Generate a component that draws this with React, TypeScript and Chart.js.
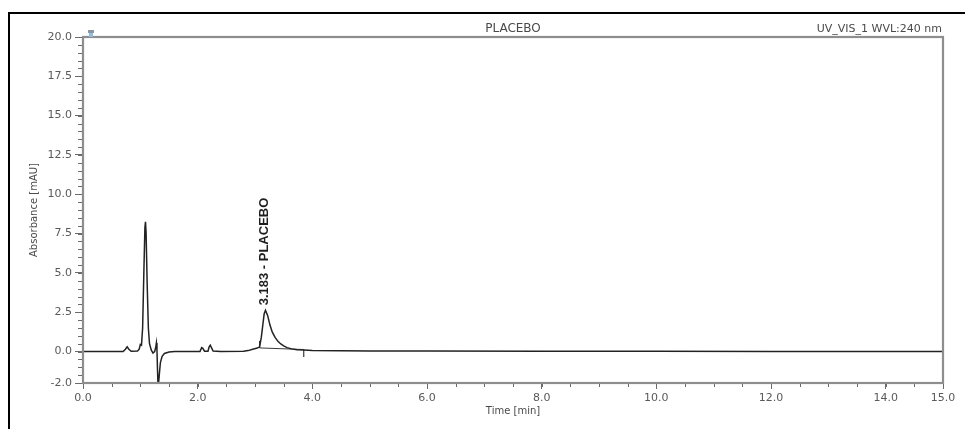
import { useEffect, useRef } from "react";
import { Chart, registerables } from "chart.js";

Chart.register(...registerables);

// Chromatogram trace: retention time (min) and detector response (mAU)
const timeMin = [
  0.0, 0.7, 0.74, 0.77, 0.8, 0.84, 0.95, 0.98, 1.0, 1.02, 1.04, 1.06, 1.08, 1.09, 1.1, 1.12, 1.14, 1.16,
  1.19, 1.22, 1.25, 1.27, 1.28, 1.29, 1.3, 1.31, 1.32, 1.33, 1.35, 1.38, 1.42, 1.5, 1.6, 2.04, 2.07, 2.09,
  2.12, 2.18, 2.2, 2.22, 2.24, 2.27, 2.4, 2.8, 2.88, 2.96, 3.04, 3.08, 3.11, 3.14, 3.16, 3.183, 3.22, 3.26,
  3.3, 3.35, 3.4, 3.45, 3.5, 3.56, 3.64, 3.73, 3.85, 4.0, 4.5, 5.0, 6.0, 8.0, 10.0, 12.0, 15.0,
];
const absorbance = [
  0.0, 0.0, 0.15, 0.3, 0.15, 0.02, 0.03, 0.15, 0.45, 0.4, 1.5, 4.8, 7.9, 8.25, 7.6, 4.2, 1.5, 0.5,
  0.1, -0.1, 0.0, 0.3, 0.55, 0.1, -1.2, -2.4, -2.4, -1.5, -0.7, -0.3, -0.12, -0.03, 0.0, 0.0, 0.25, 0.2,
  0.02, 0.02, 0.3, 0.4, 0.25, 0.03, 0.0, 0.02, 0.06, 0.15, 0.22, 0.3, 0.9, 1.8, 2.4, 2.62, 2.3, 1.7,
  1.25, 0.9, 0.65, 0.48, 0.36, 0.25, 0.17, 0.12, 0.1, 0.07, 0.05, 0.04, 0.03, 0.02, 0.02, 0.01, 0.0,
];

// Integration baseline under the named peak, with its start/end delimiters
const baselineTime = [3.08, 3.85];
const baselineAbs = [0.23, 0.13];
const startMarkTime = [3.08, 3.08];
const startMarkAbs = [0.23, 0.68];
const endMarkTime = [3.85, 3.85];
const endMarkAbs = [0.13, -0.35];

// Identified peak
const peakName = "PLACEBO";
const peakRetention = 3.183;

// Header texts
const sampleName = "PLACEBO";
const channelName = "UV_VIS_1 WVL:240 nm";

// Axis ticks
const xTickValues = [0, 2, 4, 6, 8, 10, 12, 14, 15];
const yTickValues = [-2, 0, 2.5, 5, 7.5, 10, 12.5, 15, 17.5, 20];
const minorStep = 0.5;

const toPoints = (xs: number[], ys: number[]) => xs.map((x, i) => ({ x, y: ys[i] }));

const CANVAS_W = 965;
const CANVAS_H = 429;
const PAD = { top: 37, right: 22, left: 20, bottom: 8 };
const AREA_LEFT = 83;
const AREA_BOTTOM = 383;

const decorPlugin = {
  id: "chromDecor",
  beforeDraw(chart: any) {
    const { ctx } = chart;
    ctx.save();
    ctx.fillStyle = "#ffffff";
    ctx.fillRect(0, 0, chart.width, chart.height);
    // outer black frame (left and top edges)
    ctx.fillStyle = "#000000";
    ctx.fillRect(8, 12, 2, chart.height - 12);
    ctx.fillRect(8, 12, chart.width - 8, 2);
    ctx.restore();
  },
  afterDatasetsDraw(chart: any) {
    const { ctx, chartArea: a, scales } = chart;
    const xs = scales.x;
    const ys = scales.y;
    ctx.save();

    // minor ticks
    ctx.strokeStyle = "#6a6a6a";
    ctx.lineWidth = 1;
    ctx.beginPath();
    for (let v = xs.min; v <= xs.max + 1e-9; v += minorStep) {
      const px = Math.round(xs.getPixelForValue(v)) + 0.5;
      ctx.moveTo(px, a.bottom);
      ctx.lineTo(px, a.bottom + 4);
    }
    for (let v = ys.min; v <= ys.max + 1e-9; v += minorStep) {
      const py = Math.round(ys.getPixelForValue(v)) + 0.5;
      ctx.moveTo(a.left - 5, py);
      ctx.lineTo(a.left, py);
    }
    ctx.stroke();

    // plot frame
    ctx.strokeStyle = "#8e8e8e";
    ctx.lineWidth = 2.2;
    ctx.strokeRect(a.left, a.top, a.right - a.left, a.bottom - a.top);

    // peak annotation
    const px = xs.getPixelForValue(peakRetention);
    const idx = timeMin.indexOf(peakRetention);
    const py = ys.getPixelForValue(absorbance[idx]);
    ctx.translate(px - 1, py - 5);
    ctx.rotate(-Math.PI / 2);
    ctx.fillStyle = "#1e1e1e";
    ctx.font = "bold 13px 'Liberation Sans', Arial, sans-serif";
    ctx.textAlign = "left";
    ctx.textBaseline = "middle";
    ctx.fillText(`${peakRetention.toFixed(3)} - ${peakName}`, 0, 0);
    ctx.restore();

    // header line
    ctx.save();
    ctx.fillStyle = "#4a4a4a";
    ctx.textBaseline = "middle";
    ctx.font = "12px 'DejaVu Sans', sans-serif";
    ctx.textAlign = "center";
    ctx.fillText(sampleName, (a.left + a.right) / 2, 29);
    ctx.font = "11px 'DejaVu Sans', sans-serif";
    ctx.textAlign = "right";
    ctx.fillText(channelName, a.right - 1, 29);

    // small channel icon at the top-left corner of the plot
    ctx.fillStyle = "#8d97a3";
    ctx.fillRect(a.left + 5, 30, 6, 3);
    ctx.fillStyle = "#8fbde0";
    ctx.fillRect(a.left + 6, 33, 4, 4);
    ctx.restore();
  },
};

export default function App() {
  const canvasRef = useRef<HTMLCanvasElement | null>(null);

  useEffect(() => {
    const canvas = canvasRef.current;
    if (!canvas) return;
    const lineColor = "#222222";
    const chart = new Chart(canvas, {
      type: "line",
      data: {
        datasets: [
          {
            data: toPoints(timeMin, absorbance),
            borderColor: lineColor,
            borderWidth: 1.5,
            pointRadius: 0,
            tension: 0,
          },
          {
            data: toPoints(baselineTime, baselineAbs),
            borderColor: "#3a3a3a",
            borderWidth: 1,
            pointRadius: 0,
          },
          {
            data: toPoints(startMarkTime, startMarkAbs),
            borderColor: "#3a3a3a",
            borderWidth: 1.2,
            pointRadius: 0,
          },
          {
            data: toPoints(endMarkTime, endMarkAbs),
            borderColor: "#3a3a3a",
            borderWidth: 1.2,
            pointRadius: 0,
          },
        ],
      },
      options: {
        responsive: false,
        animation: false,
        events: [],
        layout: { padding: PAD },
        plugins: {
          legend: { display: false },
          tooltip: { enabled: false },
          title: { display: false },
        },
        scales: {
          x: {
            type: "linear",
            min: 0,
            max: 15,
            afterBuildTicks: (scale: any) => {
              scale.ticks = xTickValues.map((value) => ({ value }));
            },
            afterFit: (scale: any) => {
              scale.height = CANVAS_H - PAD.bottom - AREA_BOTTOM;
              scale.paddingLeft = 0;
              scale.paddingRight = 0;
            },
            grid: {
              drawOnChartArea: false,
              drawTicks: true,
              tickLength: 6,
              color: "#6a6a6a",
            },
            border: { display: false },
            ticks: {
              padding: 3,
              maxRotation: 0,
              autoSkip: false,
              color: "#5a5a5a",
              font: { family: "'DejaVu Sans', sans-serif", size: 11 },
              callback: (v: any) => Number(v).toFixed(1),
            },
            title: {
              display: true,
              text: "Time [min]",
              color: "#4a4a4a",
              font: { family: "'DejaVu Sans', sans-serif", size: 10 },
              padding: { top: 0, bottom: 4 },
            },
          },
          y: {
            type: "linear",
            min: -2,
            max: 20,
            afterBuildTicks: (scale: any) => {
              scale.ticks = yTickValues.map((value) => ({ value }));
            },
            afterFit: (scale: any) => {
              scale.width = AREA_LEFT - PAD.left;
              scale.paddingTop = 0;
              scale.paddingBottom = 0;
            },
            grid: {
              drawOnChartArea: false,
              drawTicks: true,
              tickLength: 8,
              color: "#6a6a6a",
            },
            border: { display: false },
            ticks: {
              padding: 3,
              autoSkip: false,
              color: "#5a5a5a",
              font: { family: "'DejaVu Sans', sans-serif", size: 11 },
              callback: (v: any) => Number(v).toFixed(1),
            },
            title: {
              display: true,
              text: "Absorbance [mAU]",
              color: "#4a4a4a",
              font: { family: "'DejaVu Sans', sans-serif", size: 10 },
              padding: { top: 8, bottom: 0 },
            },
          },
        },
      },
      plugins: [decorPlugin],
    });
    return () => chart.destroy();
  }, []);

  return (
    <div style={{ position: "absolute", left: 0, top: 0, width: CANVAS_W, height: CANVAS_H, background: "#fff" }}>
      <canvas ref={canvasRef} width={CANVAS_W} height={CANVAS_H} style={{ display: "block" }} />
    </div>
  );
}
